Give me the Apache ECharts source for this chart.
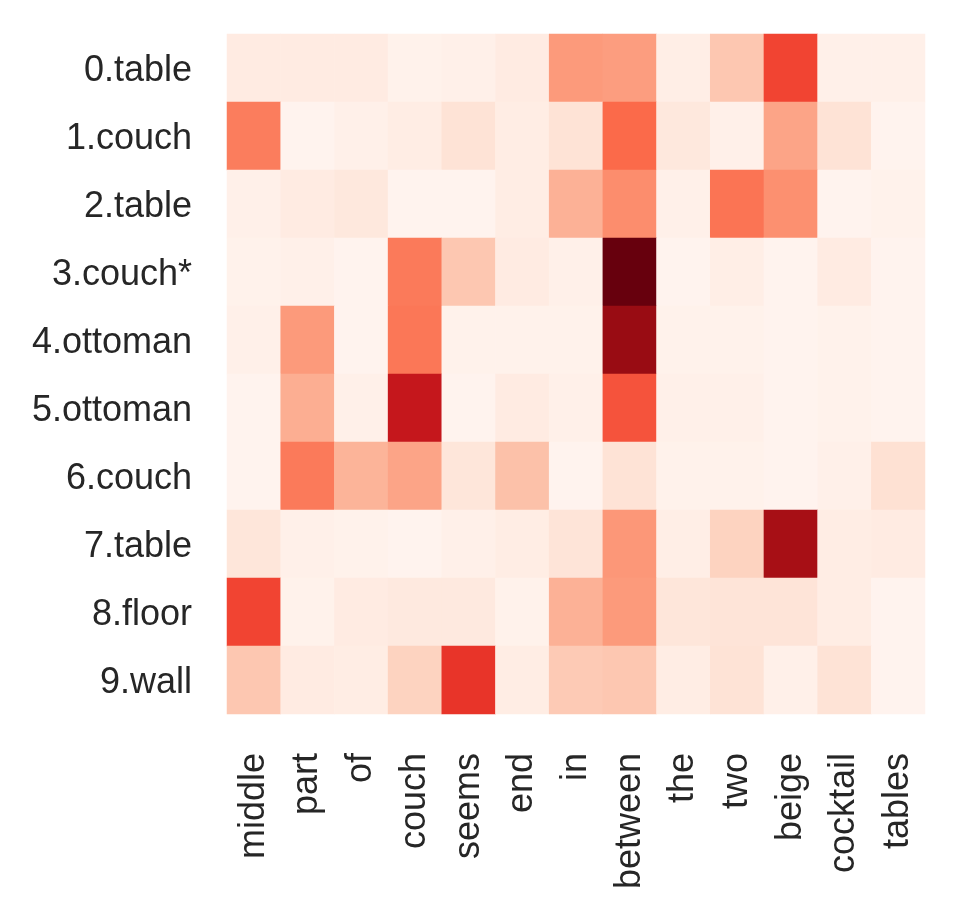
<!DOCTYPE html>
<html>
<head>
<meta charset="utf-8">
<script src="https://cdn.jsdelivr.net/npm/echarts@6/dist/echarts.min.js"></script>
<style>
html,body{margin:0;padding:0;background:#fff;}
#chart{width:959px;height:917px;}
</style>
</head>
<body>
<div id="chart"></div>
<script>
// Row (object) labels, top to bottom
const rowLabels = ['0.table','1.couch','2.table','3.couch*','4.ottoman','5.ottoman','6.couch','7.table','8.floor','9.wall'];
// Column (word) labels, left to right
const colLabels = ['middle','part','of','couch','seems','end','in','between','the','two','beige','cocktail','tables'];

// Attention values per row, one per column
const row0 = [0.06, 0.06, 0.06, 0.02, 0.03, 0.06, 0.35, 0.34, 0.04, 0.21, 0.60, 0.03, 0.03];
const row1 = [0.44, 0.01, 0.03, 0.05, 0.11, 0.05, 0.11, 0.50, 0.08, 0.03, 0.32, 0.11, 0.01];
const row2 = [0.03, 0.06, 0.08, 0.01, 0.01, 0.05, 0.28, 0.39, 0.03, 0.47, 0.38, 0.01, 0.02];
const row3 = [0.02, 0.03, 0.01, 0.45, 0.21, 0.06, 0.03, 1.00, 0.01, 0.04, 0.01, 0.06, 0.01];
const row4 = [0.03, 0.35, 0.01, 0.46, 0.02, 0.02, 0.02, 0.90, 0.02, 0.02, 0.01, 0.02, 0.01];
const row5 = [0.01, 0.29, 0.03, 0.77, 0.01, 0.06, 0.03, 0.56, 0.03, 0.03, 0.01, 0.02, 0.01];
const row6 = [0.01, 0.45, 0.27, 0.32, 0.09, 0.23, 0.01, 0.11, 0.02, 0.02, 0.01, 0.03, 0.12];
const row7 = [0.09, 0.03, 0.02, 0.01, 0.03, 0.05, 0.10, 0.36, 0.04, 0.17, 0.87, 0.05, 0.06];
const row8 = [0.60, 0.02, 0.06, 0.07, 0.07, 0.02, 0.28, 0.35, 0.09, 0.10, 0.10, 0.05, 0.01];
const row9 = [0.21, 0.06, 0.05, 0.17, 0.65, 0.05, 0.20, 0.21, 0.05, 0.11, 0.03, 0.11, 0.01];

const rows = [row0,row1,row2,row3,row4,row5,row6,row7,row8,row9];
const data = [];
rows.forEach((r, yi) => r.forEach((v, xi) => data.push([xi, yi, v])));

const reds = ['#fff5f0','#fee0d2','#fcbba1','#fc9272','#fb6a4a','#ef3b2c','#cb181d','#a50f15','#67000d'];
const FONT = '"Liberation Sans", Arial, sans-serif';

const chart = echarts.init(document.getElementById('chart'), null, {renderer:'canvas'});
chart.setOption({
  animation: false,
  backgroundColor: '#ffffff',
  grid: {left: 227, top: 34, width: 698, height: 680, containLabel: false},
  xAxis: {
    type: 'category',
    data: colLabels,
    axisLine: {show: false},
    axisTick: {show: false},
    splitLine: {show: false},
    splitArea: {show: false},
    axisLabel: {rotate: 90, margin: 39, fontSize: 36, color: '#262626', fontFamily: FONT, interval: 0}
  },
  yAxis: {
    type: 'category',
    data: rowLabels,
    inverse: true,
    axisLine: {show: false},
    axisTick: {show: false},
    splitLine: {show: false},
    splitArea: {show: false},
    axisLabel: {
      margin: 35, interval: 0,
      formatter: v => '{a|' + v + '}',
      rich: {a: {fontSize: 36, color: '#262626', fontFamily: FONT, padding: [7, 0, 0, 0]}}
    }
  },
  visualMap: {
    show: false,
    min: 0,
    max: 1,
    dimension: 2,
    inRange: {color: reds}
  },
  series: [{
    type: 'heatmap',
    data: data,
    itemStyle: {borderWidth: 0},
    emphasis: {disabled: true}
  }]
});
</script>
</body>
</html>
